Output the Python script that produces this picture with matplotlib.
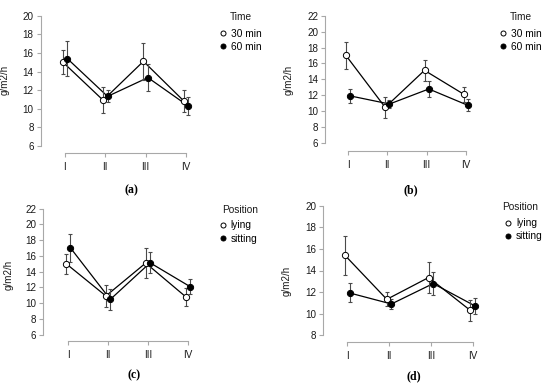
import numpy as np
import matplotlib.pyplot as plt

plt.rcParams['font.family'] = ['Liberation Sans', 'DejaVu Sans']

groups = ['I', 'II', 'III', 'IV']

# means and error bars
lying_30_mean = [15.02, 10.92, 15.10, 10.84]
lying_30_err = [1.29, 1.42, 1.96, 1.15]
lying_60_mean = [15.40, 11.33, 13.35, 10.30]
lying_60_err = [1.84, 0.65, 1.44, 0.94]
sitting_30_mean = [17.02, 10.48, 15.13, 12.12]
sitting_30_err = [1.73, 1.35, 1.34, 0.92]
sitting_60_mean = [11.92, 10.90, 12.79, 10.72]
sitting_60_err = [0.88, 0.50, 1.05, 0.76]

W, H = 550, 386
fig = plt.figure(figsize=(W / 100, H / 100), dpi=100)

axis_col = '#a8a8a8'
text_col = '#1a1a1a'
fs = 7.1
leg_fs = 7.3


def place(left_px, bottom_px, x1_px, x4_px, ylo, ylo_px, yhi, yhi_px):
    sx = (x4_px - x1_px) / 3
    sy = (ylo_px - yhi_px) / (yhi - ylo)
    x0 = 1 - (x1_px - left_px) / sx
    right_px = x4_px + 0.3 * sx
    y0 = ylo - (bottom_px - ylo_px) / sy
    top_px = yhi_px - 0.3 * sy
    ax = fig.add_axes([left_px / W, 1 - bottom_px / H,
                       (right_px - left_px) / W, (bottom_px - top_px) / H])
    ax.set_xlim(x0, 4.3)
    ax.set_ylim(y0, yhi + 0.3)
    return ax


def panel(ax, s_open, s_fill, labels, title, yticks, cap, cap_xy,
          leg_xy, title_xy, ylab_xy):
    x = np.arange(1, len(groups) + 1)
    for (m, e), dx in [(s_open, -0.055), (s_fill, 0.055)]:
        ax.plot(x + dx, m, color='black', lw=0.9, zorder=2)
    handles = []
    for (m, e), dx, fc, lab in [(s_open, -0.055, 'white', labels[0]),
                                (s_fill, 0.055, 'black', labels[1])]:
        ax.errorbar(x + dx, m, yerr=e, fmt='none', ecolor='#4a4a4a',
                    elinewidth=0.8, capsize=1.5, capthick=0.8, zorder=3)
        h, = ax.plot(x + dx, m, 'o', ms=4.5, mfc=fc, mec='black',
                     mew=0.7, zorder=4, label=lab)
        handles.append(h)

    for s in ['top', 'right']:
        ax.spines[s].set_visible(False)
    for s in ['left', 'bottom']:
        ax.spines[s].set_color(axis_col)
        ax.spines[s].set_linewidth(0.8)
    ax.spines['left'].set_bounds(yticks[0], yticks[-1])
    ax.spines['bottom'].set_bounds(1, 4)
    ax.set_yticks(yticks)
    ax.set_xticks(x)
    ax.set_xticklabels(groups)
    ax.tick_params(length=3, width=0.8, color=axis_col, labelsize=fs,
                   labelcolor=text_col)
    ax.tick_params(axis='x', pad=3.5)
    ax.tick_params(axis='y', pad=2)
    ax.set_ylabel('g/m2/h', fontsize=fs, color=text_col)
    ax.yaxis.set_label_coords(ylab_xy[0] / W, 1 - ylab_xy[1] / H,
                              transform=fig.transFigure)

    ax.legend(handles=handles, loc='upper left',
              bbox_to_anchor=((leg_xy[0] - 3) / W, 1 - (leg_xy[1] - 5.5) / H),
              bbox_transform=fig.transFigure, frameon=False,
              fontsize=leg_fs, handlelength=0.6, handletextpad=0.45,
              labelspacing=0.3, borderpad=0, markerscale=0.8,
              borderaxespad=0)
    fig.text(title_xy[0] / W, 1 - title_xy[1] / H, title, fontsize=leg_fs,
             ha='center', va='center', color=text_col)
    fig.text(cap_xy[0] / W, 1 - cap_xy[1] / H, cap, fontsize=8.5,
             fontweight='bold', family=['Liberation Serif', 'DejaVu Serif'],
             ha='center', va='center')


ax_a = place(40.5, 153, 65, 186, 6, 146, 20, 15.7)
panel(ax_a, (lying_30_mean, lying_30_err), (lying_60_mean, lying_60_err),
      ['30 min', '60 min'], 'Time', [6, 8, 10, 12, 14, 16, 18, 20],
      '(a)', (131, 190), (223, 34.3), (241, 17), (10, 80))

ax_b = place(325, 151, 348, 466, 6, 143, 22, 15.7)
panel(ax_b, (sitting_30_mean, sitting_30_err), (sitting_60_mean, sitting_60_err),
      ['30 min', '60 min'], 'Time', [6, 8, 10, 12, 14, 16, 18, 20, 22],
      '(b)', (411, 190), (503.3, 34.3), (521, 17), (294, 80))

ax_c = place(43, 340.7, 68.3, 187.7, 6, 334.7, 22, 208.7)
panel(ax_c, (lying_30_mean, lying_30_err), (sitting_30_mean, sitting_30_err),
      ['lying', 'sitting'], 'Position', [6, 8, 10, 12, 14, 16, 18, 20, 22],
      '(c)', (134, 375), (223, 226), (240, 210), (14, 275))

ax_d = place(323.3, 342, 347.3, 472.7, 8, 335.3, 20, 205.7)
panel(ax_d, (lying_60_mean, lying_60_err), (sitting_60_mean, sitting_60_err),
      ['lying', 'sitting'], 'Position', [8, 10, 12, 14, 16, 18, 20],
      '(d)', (414, 376), (508.3, 223.7), (520, 207.3), (292, 281))

fig.savefig('out.png', dpi=100)
